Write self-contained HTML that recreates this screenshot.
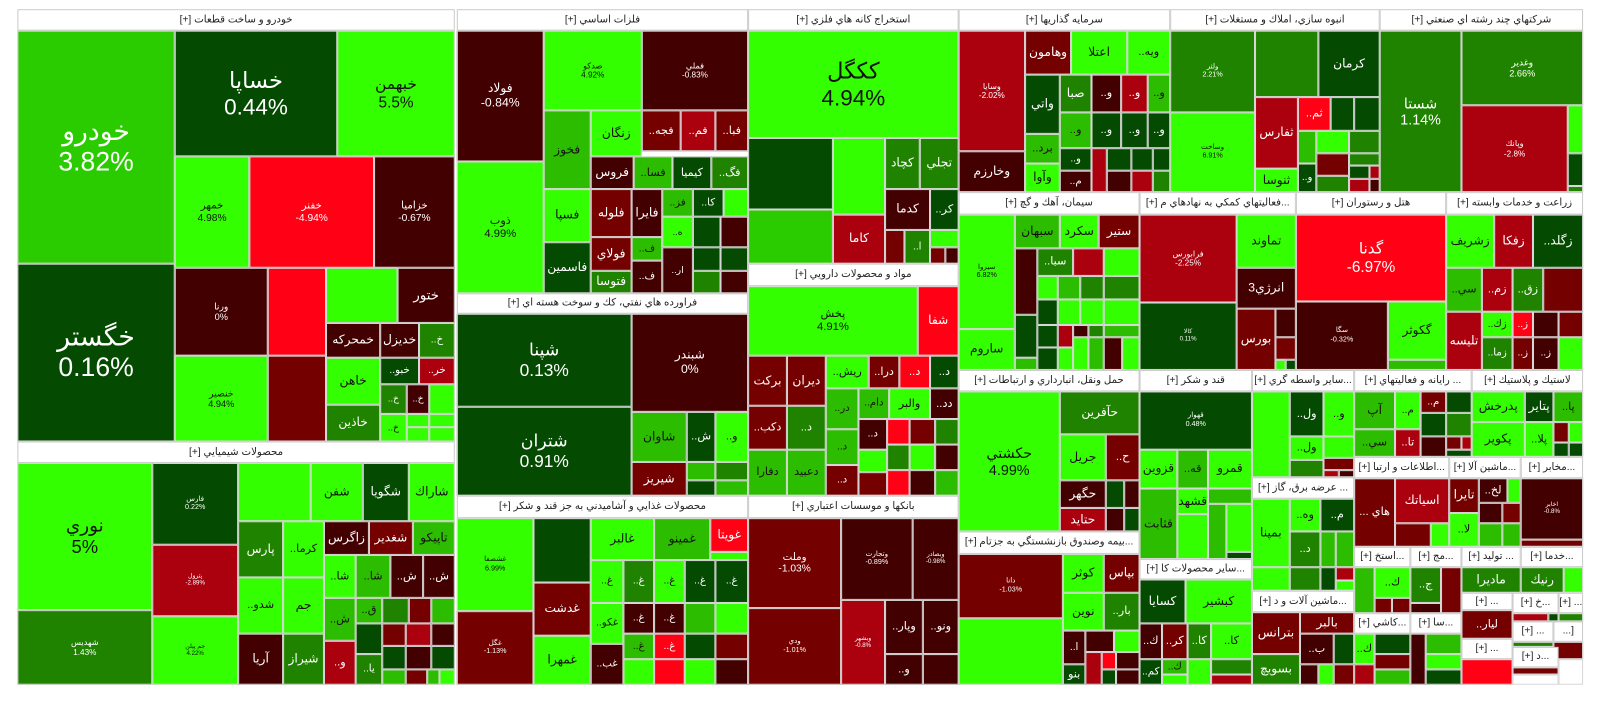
<!DOCTYPE html>
<html><head><meta charset="utf-8">
<style>
html,body{margin:0;padding:0;background:#fff;width:1600px;height:698px;overflow:hidden}
#w{position:absolute;left:0;top:0;width:1570px;height:690px;transform:scale(1.022);transform-origin:0 0}
.c{position:absolute;box-sizing:border-box;border:1px solid #d8d8d8;display:flex;align-items:center;justify-content:center;text-align:center;overflow:hidden;font-family:"Liberation Sans","DejaVu Sans",sans-serif;color:#fff;line-height:1.15;white-space:nowrap}
.h{background:#fff;color:#222;font-size:10px;border:1px solid #ccc;direction:rtl}
.g{background:#33ff00;color:#111}.m{background:#2dbd00;color:#111}.n{background:#2acc00}
.M{background:#1f8300}.d{background:#044a00}.D{background:#430000}.k{background:#740000}
.R{background:#ab000e}.r{background:#ff0014}.w{background:#fff;color:#222}
</style></head><body><div id="w"></div>
<script>
var H=[[17,9,445,30,'خودرو و ساخت قطعات [+]'],[447,9,732,30,'فلزات اساسي [+]'],[447,287,732,307,'فراورده هاي نفتي، كك و سوخت هسته اي [+]'],[447,485,732,507,'محصولات غذايي و آشاميدني به جز قند و شكر [+]'],[732,9,938,30,'استخراج كانه هاي فلزي [+]'],[732,258,938,280,'مواد و محصولات دارويي [+]'],[732,485,938,507,'بانكها و موسسات اعتباري [+]'],[938,9,1145,30,'سرمايه گذاريها [+]'],[1145,9,1350,30,'انبوه سازي، املاك و مستغلات [+]'],[1350,9,1549,30,'شركتهاي چند رشته اي صنعتي [+]'],[938,188,1115,210,'سيمان، آهك و گچ [+]'],[1115,188,1268,210,'...فعاليتهاي كمكي به نهادهاي م [+]'],[1268,188,1415,210,'هتل و رستوران [+]'],[1415,188,1549,210,'زراعت و خدمات وابسته [+]'],[938,362,1115,383,'حمل ونقل، انبارداري و ارتباطات [+]'],[938,520,1115,542,'...بيمه وصندوق بازنشستگي به جزتام [+]'],[1115,362,1225,383,'قند و شكر [+]'],[1115,547,1225,567,'...ساير محصولات كا [+]'],[1225,362,1325,383,'...ساير واسطه گري [+]'],[1225,467,1325,488,'... عرضه برق، گاز [+]'],[1225,578,1325,599,'...ماشين آلات و د [+]'],[1325,362,1440,383,'... رايانه و فعاليتهاي [+]'],[1440,362,1549,383,'لاستيك و پلاستيك [+]'],[1325,447,1418,468,'...اطلاعات و ارتبا [+]'],[1418,447,1488,468,'...ماشين آلا [+]'],[1488,447,1549,468,'...مخابر [+]'],[17,432,445,453,'محصولات شيميايي [+]'],[1325,535,1380,555,'...استخ [+]'],[1380,535,1430,555,'...مج [+]'],[1430,535,1488,555,'... توليد [+]'],[1488,535,1549,555,'...خدما [+]'],[1325,600,1380,620,'...كاشي [+]'],[1380,600,1430,620,'...سا [+]'],[1430,580,1480,597,'... [+]'],[1480,580,1525,600,'...خ [+]'],[1525,580,1549,600,'... [+]'],[1480,608,1520,628,'... [+]'],[1520,608,1549,628,'[...'],[1430,625,1480,645,'... [+]'],[1480,633,1525,653,'...د [+]']];
var C=[
[17,30,171,258,'n','خودرو<br>3.82%',26],[17,258,171,432,'d','خگستر<br>0.16%',26],[171,30,330,153,'d','خساپا<br>0.44%',22],[330,30,445,153,'g','خبهمن<br>5.5%',15],[171,153,244,262,'g','خمهر<br>4.98%',10],[244,153,366,262,'r','خفنر<br>-4.94%',10],[366,153,445,262,'D','خزاميا<br>-0.67%',10],[171,262,262,348,'D','ورنا<br>0%',9],[262,262,319,348,'r','',6],[319,262,389,316,'g','',6],[389,262,445,316,'D','ختور',13],[171,348,262,432,'g','خنصير<br>4.94%',9],[262,348,319,432,'k','',6],[319,316,372,350,'D','خمحركه',12],[372,316,410,350,'D','خديزل',12],[410,316,445,350,'M','..خ',10],[319,350,372,396,'g','خاهن',12],[372,350,410,376,'d','..خبو',10],[410,350,445,376,'R','..خر',10],[319,396,372,432,'M','خاذين',12],[372,376,398,405,'M','..خ',9],[398,376,420,405,'D','..خ',9],[420,376,445,405,'g','',9],[372,405,398,432,'g','..خ',9],[398,405,420,418,'g'],[420,405,445,418,'g'],[398,418,420,432,'g'],[420,418,445,432,'g'],
[447,30,532,158,'D','فولاد<br>-0.84%',12],[447,158,532,287,'g','ذوب<br>4.99%',11],[532,30,628,108,'g','صدكو<br>4.92%',8],[628,30,732,108,'D','فملي<br>-0.83%',8],[532,108,578,185,'m','فخوز',12],[532,185,578,237,'g','فسپا',12],[532,237,578,287,'d','فاسمين',12],[578,108,628,153,'g','زنگان',12],[628,108,666,148,'k','..فجه',11],[666,108,700,148,'R','..فم',11],[700,108,732,148,'k','..فبا',11],[578,153,620,185,'D','فروس',12],[620,153,658,185,'m','..فسا',11],[658,153,696,185,'d','كيميا',11],[696,153,732,185,'M','..فگ',11],[578,185,618,232,'k','فلوله',12],[618,185,648,232,'D','فايرا',12],[648,185,678,212,'m','..فز',10],[678,185,708,212,'d','..كا',10],[708,185,732,212,'g'],[578,232,618,265,'k','فولاي',12],[618,232,648,255,'m','..ف',10],[648,212,678,242,'g','..ه',9],[578,265,618,287,'M','فتوسا',12],[618,255,648,287,'D','..ف',10],[648,242,678,287,'D','..ار',9],[678,212,705,242,'d'],[705,212,732,242,'D'],[678,242,705,265,'d'],[705,242,732,265,'d'],[678,265,705,287,'M'],[705,265,732,287,'D'],
[447,307,618,398,'d','شپنا<br>0.13%',17],[447,398,618,485,'d','شتران<br>0.91%',17],[618,307,732,403,'D','شبندر<br>0%',12],[618,403,672,452,'m','شاوان',12],[672,403,700,452,'d','..ش',11],[700,403,732,452,'g','..و',11],[618,452,672,485,'k','شيريز',12],[672,452,700,470,'m'],[700,452,732,470,'M'],[672,470,700,485,'d'],[700,470,732,485,'m'],
[447,507,522,598,'g','غشصفا<br>6.99%',7],[447,598,522,670,'k','غگل<br>-1.13%',7],[522,507,578,570,'d','',6],[522,570,578,622,'k','غدشت',12],[522,622,578,670,'g','غمهرا',12],[578,507,640,548,'g','غالبر',12],[640,507,695,548,'m','غمينو',12],[695,507,732,540,'r','غويتا',12],[695,540,732,548,'g'],
[578,548,610,590,'g','..غ',10],[610,548,640,590,'M','..غ',10],[640,548,670,590,'g','..غ',10],[670,548,700,590,'d','..غ',10],[700,548,732,590,'d','..غ',10],[578,590,610,630,'g','..غكو',10],[610,590,640,620,'D','..غ',10],[640,590,670,620,'D','..غ',10],[670,590,700,620,'m'],[700,590,732,620,'g'],[578,630,610,670,'D','..غب',10],[610,620,640,645,'m','..غ',10],[640,620,670,645,'r','..غ',10],[670,620,700,645,'d'],[700,620,732,645,'k'],[610,645,640,670,'g'],[640,645,670,670,'r'],[670,645,700,670,'g'],[700,645,732,670,'D'],
[732,30,938,135,'g','ككگل<br>4.94%',22],[732,135,815,205,'d','',6],[732,205,815,258,'n','',6],[815,135,866,210,'g','',6],[866,135,900,185,'M','كچاد',12],[900,135,938,185,'M','تجلي',12],[815,210,866,258,'R','كاما',12],[866,185,910,225,'D','كدما',12],[910,185,938,225,'d','..كر',11],[866,225,885,258,'k'],[885,225,910,258,'M','..ا',10],[910,225,938,242,'g'],[910,242,925,258,'k'],[925,242,938,258,'D'],
[732,280,898,348,'g','پخش<br>4.91%',11],[898,280,938,348,'r','شفا',12],[732,348,770,397,'k','بركت',12],[770,348,808,397,'k','ديران',12],[808,348,850,380,'g','..ريش',11],[850,348,880,380,'k','..درا',11],[880,348,910,380,'r','..د',11],[910,348,938,380,'d','..د',11],[732,397,770,440,'k','..دكب',11],[732,440,770,485,'m','دفارا',11],[770,397,808,440,'M','..د',11],[770,440,808,485,'m','دعبيد',11],[808,380,840,420,'m','..در',10],[840,380,870,410,'m','..دام',10],[870,380,910,410,'g','والبر',11],[910,380,938,410,'D','..دد',11],[808,420,840,455,'m','..د',10],[808,455,840,485,'k','..د',10],[840,410,868,440,'D','..د',10],[868,410,890,435,'r'],[890,410,915,435,'k'],[915,410,938,435,'M'],[840,440,868,462,'g'],[840,462,868,485,'k'],[868,435,890,460,'M'],[890,435,915,460,'g'],[915,435,938,460,'D'],[868,460,890,485,'r'],[890,460,915,485,'D'],[915,460,938,485,'m'],
[732,507,823,595,'k','وملت<br>-1.03%',10],[732,595,823,670,'k','ودي<br>-1.01%',7],[823,507,893,587,'D','وتجارت<br>-0.89%',7],[893,507,938,587,'D','وبصادر<br>-0.98%',6],[823,587,866,670,'R','وبشهر<br>-0.8%',6],[866,587,903,640,'D','..وپار',11],[903,587,938,640,'D','..ونو',11],[866,640,903,670,'D','..و',11],[903,640,938,670,'D'],
[938,30,1003,148,'R','وسايا<br>-2.02%',8],[938,148,1003,188,'D','وخارزم',12],[1003,30,1048,73,'k','وهامون',12],[1048,30,1103,73,'g','اعتلا',12],[1103,30,1145,73,'g','..ويه',11],[1003,73,1037,131,'d','واتي',12],[1037,73,1068,110,'M','صبا',12],[1068,73,1097,110,'D','..و',11],[1097,73,1123,110,'R','..و',11],[1123,73,1145,110,'m','..و',11],[1003,131,1037,160,'m','..برد',11],[1003,160,1037,188,'g','وآوا',12],[1037,110,1068,145,'m','..و',11],[1068,110,1097,145,'d','..و',11],[1097,110,1123,145,'d','..و',11],[1123,110,1145,145,'d','..و',11],[1037,145,1068,167,'d','..و',10],[1037,167,1068,188,'D','..م',10],[1068,145,1083,188,'R'],[1083,145,1107,167,'d'],[1107,145,1128,167,'d'],[1128,145,1145,167,'d'],[1083,167,1107,188,'D'],[1107,167,1128,188,'R'],[1128,167,1145,188,'M'],
[1145,30,1228,110,'M','ولثر<br>2.21%',7],[1145,110,1228,188,'g','وساخت<br>6.91%',7],[1228,30,1290,95,'M','',6],[1290,30,1350,95,'d','كرمان',12],[1228,95,1270,165,'R','ثفارس',12],[1228,165,1270,188,'g','ثنوسا',12],[1270,95,1302,128,'r','..ثم',11],[1302,95,1325,128,'d'],[1325,95,1350,128,'d'],[1270,128,1288,160,'m'],[1288,128,1320,150,'g'],[1320,128,1350,150,'M'],[1288,150,1320,172,'k'],[1320,150,1350,162,'M'],[1320,162,1340,175,'d'],[1340,162,1350,175,'R'],[1270,160,1288,188,'d','..و',10],[1288,172,1320,188,'M'],[1320,175,1340,188,'R'],[1340,175,1350,188,'D'],
[1350,30,1430,188,'M','شستا<br>1.14%',14],[1430,30,1549,103,'M','وغدير<br>2.66%',9],[1430,103,1534,188,'R','وپانك<br>-2.8%',8],[1534,103,1549,150,'g'],[1534,150,1549,182,'d'],[1534,182,1549,188,'M'],
[938,210,993,322,'g','سيروا<br>6.82%',7],[938,322,993,362,'g','ساروم',12],[993,210,1037,243,'m','سبهان',12],[1037,210,1075,243,'g','سكرد',12],[1075,210,1115,243,'k','ستير',12],[993,243,1015,308,'D'],[993,308,1015,350,'d'],[993,350,1015,362,'m'],[1015,243,1050,270,'M','..سبا',11],[1050,243,1080,270,'R'],[1080,243,1115,270,'g'],[1015,270,1035,293,'g'],[1035,270,1057,293,'m'],[1057,270,1080,293,'M'],[1080,270,1115,293,'M'],[1015,293,1035,318,'d'],[1035,293,1057,318,'g'],[1057,293,1080,318,'g'],[1080,293,1115,318,'g'],[1015,318,1035,340,'d'],[1035,318,1050,340,'R'],[1050,318,1065,330,'D'],[1065,318,1080,330,'M'],[1080,318,1115,330,'m'],[1015,340,1035,362,'d'],[1035,340,1050,362,'g'],[1050,330,1065,362,'g'],[1065,330,1080,362,'m'],[1080,330,1098,362,'D'],[1098,330,1115,362,'g'],
[1115,210,1210,296,'R','فرابورس<br>-2.25%',8],[1210,210,1268,262,'g','تماوند',12],[1210,262,1268,302,'D','انرژي3',12],[1115,296,1210,362,'d','كالا<br>0.11%',6],[1210,302,1248,362,'k','بورس',12],[1248,302,1268,330,'D'],[1248,330,1268,352,'k'],[1248,352,1258,362,'g'],[1258,352,1268,362,'d'],
[1268,210,1415,295,'r','گدنا<br>-6.97%',15],[1268,295,1358,362,'D','سگا<br>-0.32%',7],[1358,295,1415,352,'g','گكوثر',12],[1358,352,1415,362,'m'],
[1415,210,1462,262,'g','زشريف',12],[1462,210,1500,262,'R','زفكا',12],[1500,210,1549,262,'d','..زگلد',12],[1415,262,1450,305,'m','..سي',11],[1450,262,1480,305,'R','..زم',11],[1480,262,1510,305,'M','..زق',11],[1510,262,1549,305,'k'],[1415,305,1450,362,'R','تليسه',12],[1450,305,1480,330,'g','..زك',10],[1480,305,1500,330,'r','..ز',10],[1500,305,1525,330,'D'],[1525,305,1549,330,'k'],[1450,330,1480,362,'M','..زما',10],[1480,330,1500,362,'k','..ز',10],[1500,330,1525,362,'D','..ز',10],[1525,330,1549,362,'g'],
[938,383,1037,520,'g','حكشتي<br>4.99%',14],[1037,383,1115,425,'M','حآفرين',12],[1037,425,1082,470,'g','جريل',12],[1082,425,1115,470,'k','..ح',11],[1037,470,1082,497,'D','حگهر',12],[1037,497,1082,520,'R','حتايد',12],[1082,470,1100,497,'d'],[1100,470,1115,497,'D'],[1082,497,1100,520,'D'],[1100,497,1115,520,'d'],
[938,542,1040,605,'k','دانا<br>-1.03%',7],[938,605,1040,670,'g','',6],[1040,542,1080,580,'g','كوثر',12],[1080,542,1115,580,'k','بپاس',12],[1040,580,1080,617,'g','نوين',12],[1080,580,1115,617,'M','..بار',11],[1040,617,1062,650,'D','..ا',10],[1062,617,1090,638,'D'],[1090,617,1115,638,'g'],[1040,650,1062,670,'d','بنو',11],[1062,638,1078,670,'R'],[1078,638,1092,655,'r'],[1092,638,1115,655,'D'],[1078,655,1092,670,'d'],[1092,655,1115,670,'D'],
[1115,383,1225,440,'d','قهوار<br>0.48%',7],[1115,440,1152,478,'g','قزوين',12],[1152,440,1182,478,'m','..قه',11],[1182,440,1225,478,'g','قمرو',12],[1152,478,1182,503,'g','قشهد',12],[1115,478,1152,547,'m','قثابت',12],[1182,478,1225,493,'m'],[1182,493,1200,547,'m'],[1200,493,1225,540,'g'],[1200,540,1225,547,'d'],[1152,503,1182,547,'g'],
[1115,567,1160,610,'d','كسايا',12],[1160,567,1225,610,'g','كبشير',12],[1115,610,1137,645,'D','..ك',11],[1137,610,1162,645,'k','..كر',11],[1162,610,1185,645,'M','..كا',11],[1185,610,1225,645,'g','..كا',11],[1115,645,1137,670,'d','..كم',10],[1137,645,1162,660,'m','..ك',10],[1137,660,1162,670,'g'],[1162,645,1185,670,'g'],[1185,645,1225,660,'M'],[1185,660,1225,670,'R'],
[1225,383,1262,467,'g','',6],[1262,383,1295,427,'d','..ول',11],[1295,383,1325,427,'g','..و',11],[1262,427,1295,450,'g','..ول',11],[1295,427,1325,448,'g'],[1295,448,1325,460,'k'],[1262,450,1295,467,'M'],[1295,460,1310,467,'R'],[1310,460,1325,467,'D'],
[1225,488,1262,555,'g','بمپنا',12],[1225,555,1262,578,'g'],[1262,488,1292,520,'g','..وه',11],[1292,488,1325,520,'d','..م',11],[1262,520,1292,555,'M','..د',11],[1292,520,1307,555,'m'],[1307,520,1325,555,'m'],[1262,555,1292,578,'M'],[1292,555,1307,578,'d'],[1307,555,1325,568,'R'],[1307,568,1325,578,'g'],
[1225,599,1272,640,'k','بترانس',12],[1225,640,1272,670,'M','بسويچ',12],[1272,599,1325,620,'k','بالبر',12],[1272,620,1305,650,'D','..ب',11],[1305,620,1325,650,'d'],[1272,650,1290,670,'D'],[1290,650,1305,670,'g'],[1305,650,1325,670,'k'],
[1325,383,1365,420,'m','آپ',12],[1365,383,1390,420,'g','..م',10],[1390,383,1415,404,'k','..م',10],[1415,383,1440,404,'d'],[1325,420,1365,447,'m','..سي',11],[1365,420,1390,447,'R','..تا',11],[1390,404,1415,427,'d'],[1415,404,1440,427,'M'],[1390,427,1415,447,'D'],[1415,427,1430,440,'k'],[1430,427,1440,440,'R'],[1415,440,1440,447,'d'],
[1440,383,1492,413,'g','پدرخش',12],[1492,383,1520,413,'d','پتاير',12],[1520,383,1549,413,'m','..پا',11],[1440,413,1492,447,'g','پكوير',12],[1492,413,1520,447,'g','..پلا',11],[1520,413,1535,433,'k'],[1535,413,1549,433,'g'],[1520,433,1535,447,'d'],[1535,433,1549,447,'d'],
[1325,468,1365,535,'k','... هاي',11],[1365,468,1418,512,'R','اسياتك',12],[1365,512,1400,535,'k'],[1400,512,1418,535,'g'],
[1418,468,1447,502,'k','تايرا',12],[1447,468,1475,492,'D','..لخ',11],[1475,468,1488,492,'g'],[1418,502,1447,535,'g','..لا',11],[1447,492,1470,512,'D'],[1470,492,1488,512,'k'],[1447,512,1470,535,'m'],[1470,512,1488,535,'m'],
[1488,468,1549,528,'D','اخابر<br>-0.8%',6],[1488,528,1549,535,'k'],
[1325,555,1345,600,'m'],[1345,555,1380,585,'g','..ك',11],[1345,585,1362,600,'k'],[1362,585,1380,600,'k'],
[1380,555,1410,590,'M','..ج',11],[1410,555,1430,600,'k'],[1380,590,1410,600,'D'],
[1430,555,1488,580,'M','ماديرا',12],[1488,555,1530,580,'M','رنيك',12],[1530,555,1549,580,'g'],
[1325,620,1345,650,'g','..ك',11],[1345,620,1380,640,'d'],[1345,640,1380,655,'k'],[1325,650,1345,670,'R'],[1345,655,1380,670,'m'],
[1380,620,1395,670,'D'],[1395,620,1430,640,'m'],[1395,640,1430,655,'g'],[1395,655,1430,670,'d'],
[1430,597,1480,625,'k','..ليار',11],[1480,600,1515,608,'R'],[1515,600,1525,608,'d'],[1525,600,1549,608,'M'],[1480,628,1520,633,'M'],[1520,628,1549,645,'k'],[1430,645,1480,670,'r'],[1480,653,1525,660,'k'],[1480,660,1525,670,'w'],[1525,645,1549,670,'w'],
[17,453,149,597,'g','نوري<br>5%',18],[17,597,149,670,'M','شهديس<br>1.43%',8],[149,453,233,533,'d','فارس<br>0.22%',7],[149,533,233,603,'R','پترول<br>-2.89%',6],[149,603,233,670,'g','جم پيلن<br>4.22%',6],
[233,453,304,510,'g','',5],[304,453,355,510,'g','شفن',12],[355,453,400,510,'d','شگويا',12],[400,453,445,510,'g','شاراك',12],[233,510,277,565,'M','پارس',12],[277,510,317,565,'g','..كرما',11],[317,510,361,543,'D','زاگرس',12],[361,510,404,543,'k','شغدير',12],[404,510,445,543,'m','تاپيكو',12],[233,565,277,620,'g','..شدو',11],[277,565,317,620,'g','جم',12],[233,620,277,670,'D','آريا',12],[277,620,317,670,'M','شيراز',12],
[317,543,348,585,'g','..شا',11],[348,543,382,585,'m','..شا',11],[382,543,414,585,'D','..ش',11],[414,543,445,585,'D','..ش',11],[317,585,348,627,'m','..ش',11],[348,585,374,610,'m','..ق',11],[374,585,400,610,'M'],[400,585,422,610,'k'],[422,585,445,610,'m'],[317,627,348,670,'R','..و',11],[348,610,374,640,'d'],[348,640,374,670,'M','..يا',10],[374,610,397,632,'k'],[397,610,422,632,'R'],[422,610,445,632,'D'],[374,632,397,655,'d'],[397,632,422,655,'D'],[422,632,445,655,'d'],[374,655,397,670,'m'],[397,655,418,670,'k'],[418,655,430,670,'m'],[430,655,445,670,'g']
];
var w=document.getElementById('w'),s='';
C.forEach(function(a){s+='<div class="c '+a[4]+'" style="left:'+a[0]+'px;top:'+a[1]+'px;width:'+(a[2]-a[0])+'px;height:'+(a[3]-a[1])+'px;font-size:'+(a[6]||10)+'px">'+(a[5]||'')+'</div>';});
H.forEach(function(a){s+='<div class="c h" style="left:'+a[0]+'px;top:'+a[1]+'px;width:'+(a[2]-a[0])+'px;height:'+(a[3]-a[1])+'px">'+a[4]+'</div>';});
w.innerHTML=s;
</script></body></html>
